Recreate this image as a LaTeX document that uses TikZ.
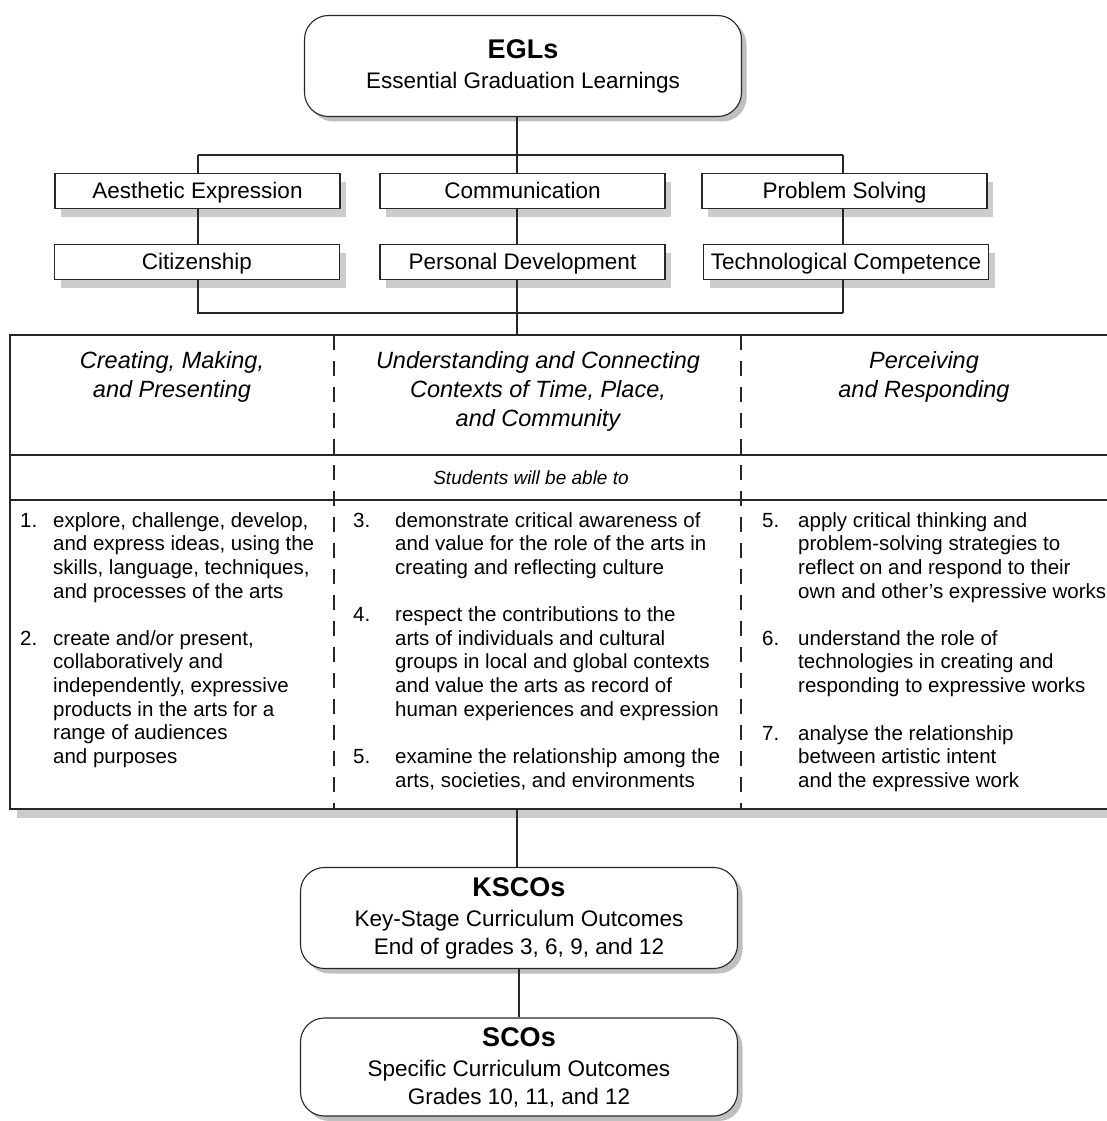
\documentclass[tikz,border=0pt]{standalone}
\usepackage{fontspec}
\setmainfont{Liberation Sans}
\usetikzlibrary{shadows}

\newcommand\boxhead[1]{{\fontsize{27}{30}\selectfont\bfseries #1}}

\tikzset{
  conn/.style={draw=black!85, line width=1.1pt},
  outcomebox/.style={draw=black!85, line width=1.1pt, fill=white, rounded corners=24pt,
    minimum width=437pt, minimum height=101pt, inner sep=0pt, align=center,
    font=\fontsize{22.5}{28}\selectfont,
    drop shadow={shadow xshift=5pt, shadow yshift=-5pt, fill=black!25, opacity=1}},
  eglbox/.style={draw=black!85, line width=1.1pt, fill=white,
    minimum width=285pt, minimum height=35pt, inner sep=0pt,
    text height=15.8pt, text depth=0pt,
    font=\fontsize{22.5}{26}\selectfont,
    drop shadow={shadow xshift=6pt, shadow yshift=-8pt, fill=black!20, opacity=1}},
  colhead/.style={anchor=north, align=center, inner sep=0pt,
    font=\fontsize{23.5}{29}\selectfont\itshape},
  itemnum/.style={anchor=north west, inner sep=0pt, font=\fontsize{20.5}{23.6}\selectfont},
  itemtext/.style={anchor=north west, inner sep=0pt, align=left, font=\fontsize{20.5}{23.6}\selectfont},
  coldash/.style={conn, dash pattern=on 15pt off 11pt}
}

\begin{document}
\begin{tikzpicture}[x=1pt, y=-1pt]

  \useasboundingbox (0,0) rectangle (1107,1121);

  \node[outcomebox] (egl) at (523,66) {\boxhead{EGLs}\\[2pt]Essential Graduation Learnings};

  \node[eglbox] (aes)  at (197.5,191) {Aesthetic Expression};
  \node[eglbox] (com)  at (522.5,191) {Communication};
  \node[eglbox] (prob) at (844.5,191) {Problem Solving};
  \node[eglbox] (cit)  at (197,262)   {Citizenship};
  \node[eglbox] (pers) at (522.5,262) {Personal Development};
  \node[eglbox] (tech) at (846,262)   {Technological Competence};

  \coordinate (bustop)   at (517,155);
  \coordinate (busleft)  at (198,155);
  \coordinate (busright) at (843,155);
  \coordinate (lowleft)  at (198,313);
  \coordinate (lowright) at (843,313);
  \coordinate (tabtop)   at (517,335);
  \coordinate (tabbot)   at (517,809);

  \draw[conn] (egl.south -| bustop) -- (bustop);
  \draw[conn] (busleft) -- (busright);
  \draw[conn] (busleft) -- (aes.north -| busleft);
  \draw[conn] (aes.south -| busleft) -- (cit.north -| busleft);
  \draw[conn] (cit.south -| busleft) -- (lowleft) -- (lowright);
  \draw[conn] (bustop) -- (com.north -| bustop);
  \draw[conn] (com.south -| bustop) -- (pers.north -| bustop);
  \draw[conn] (pers.south -| bustop) -- (tabtop);
  \draw[conn] (busright) -- (prob.north -| busright);
  \draw[conn] (prob.south -| busright) -- (tech.north -| busright);
  \draw[conn] (tech.south -| busright) -- (lowright);

  \fill[black!20] (17,809) rectangle (1107,818);
  \draw[conn] (1107,335) -- (10,335) -- (10,809) -- (1107,809);
  \draw[conn] (10,455) -- (1107,455);
  \draw[conn] (10,500) -- (1107,500);
  \draw[coldash] (334,335) -- (334,809);
  \draw[coldash] (741,335) -- (741,809);

  \node[colhead] (head1) at (172,351) {Creating, Making,\\and Presenting};
  \node[colhead] (head2) at (538,351) {Understanding and Connecting\\Contexts of Time, Place,\\and Community};
  \node[colhead] (head3) at (924,351) {Perceiving\\and Responding};
  \node[font=\fontsize{19}{22}\selectfont\itshape] (able) at (531,478) {Students will be able to};

  \node[itemnum]  (n1) at (20,510.5)  {\strut 1.};
  \node[itemtext] (t1) at (53,510.5)  {\strut explore, challenge, develop,\\and express ideas, using the\\skills, language, techniques,\\and processes of the arts};
  \node[itemnum]  (n2) at (20,628.5)  {\strut 2.};
  \node[itemtext] (t2) at (53,628.5)  {\strut create and/or present,\\collaboratively and\\independently, expressive\\products in the arts for a\\range of audiences\\and purposes};

  \node[itemnum]  (n3) at (353,510.5) {\strut 3.};
  \node[itemtext] (t3) at (395,510.5) {\strut demonstrate critical awareness of\\and value for the role of the arts in\\creating and reflecting culture};
  \node[itemnum]  (n4) at (353,605)   {\strut 4.};
  \node[itemtext] (t4) at (395,605)   {\strut respect the contributions to the\\arts of individuals and cultural\\groups in local and global contexts\\and value the arts as record of\\human experiences and expression};
  \node[itemnum]  (n5) at (353,747)   {\strut 5.};
  \node[itemtext] (t5) at (395,747)   {\strut examine the relationship among the\\arts, societies, and environments};

  \node[itemnum]  (m5) at (762,510.5) {\strut 5.};
  \node[itemtext] (u5) at (798,510.5) {\strut apply critical thinking and\\problem-solving strategies to\\reflect on and respond to their\\own and other’s expressive works};
  \node[itemnum]  (m6) at (762,628.5) {\strut 6.};
  \node[itemtext] (u6) at (798,628.5) {\strut understand the role of\\technologies in creating and\\responding to expressive works};
  \node[itemnum]  (m7) at (762,723.5) {\strut 7.};
  \node[itemtext] (u7) at (798,723.5) {\strut analyse the relationship\\between artistic intent\\and the expressive work};

  \node[outcomebox] (ksco) at (519,918) {\boxhead{KSCOs}\\[2pt]Key-Stage Curriculum Outcomes\\End of grades 3, 6, 9, and 12};
  \node[outcomebox, minimum height=98pt] (sco) at (519,1067) {\boxhead{SCOs}\\[2pt]Specific Curriculum Outcomes\\Grades 10, 11, and 12};

  \draw[conn] (tabbot) -- (ksco.north -| tabbot);
  \draw[conn] (ksco.south) -- (sco.north);

\end{tikzpicture}
\end{document}
